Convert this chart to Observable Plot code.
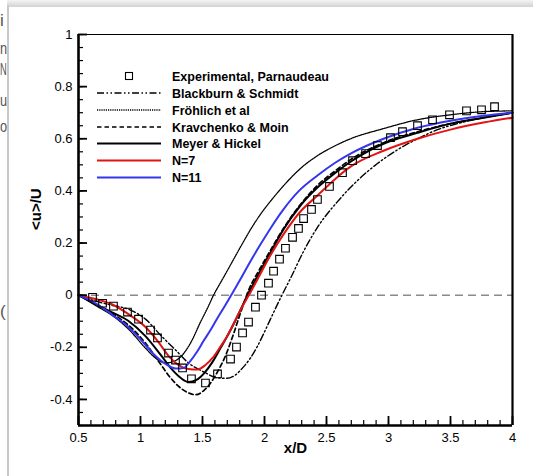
<!DOCTYPE html>
<html>
<head>
<meta charset="utf-8">
<script src="https://cdn.jsdelivr.net/npm/d3@7"></script>
<script src="https://cdn.jsdelivr.net/npm/@observablehq/plot@0.6"></script>
<style>
  body { margin: 0; background: white; }
  #wrap { position: relative; width: 533px; height: 476px; overflow: hidden; background: white; font-family: "Liberation Sans", Arial, sans-serif; }
  #wrap > svg.plot { position: absolute; left: 0; top: 0; }
  #legend { position: absolute; left: 0; top: 0; pointer-events: none; }
  .decor { position: absolute; }
  #fragbox { position: absolute; left: 0; top: 0; width: 9px; height: 476px; overflow: hidden; background: white; }
  .frag { position: absolute; left: 0; font-size: 17px; color: #555; font-family: "Liberation Sans", Arial, sans-serif; line-height: 1; transform-origin: 0 0; }
</style>
</head>
<body>
<div id="wrap"></div>
<script>
// ---------- data ----------
const expX = [0.613,0.694,0.782,0.895,0.984,1.081,1.137,1.226,1.282,1.339,1.411,1.524,1.621,1.726,1.774,1.823,1.871,1.927,1.976,2.032,2.073,2.121,2.169,2.226,2.274,2.315,2.379,2.427,2.524,2.629,2.710,2.815,2.911,3.016,3.113,3.234,3.355,3.492,3.629,3.750,3.855];
const expY = [-0.008,-0.031,-0.042,-0.065,-0.092,-0.134,-0.164,-0.222,-0.249,-0.279,-0.321,-0.337,-0.302,-0.245,-0.199,-0.145,-0.103,-0.046,0.000,0.046,0.092,0.138,0.180,0.222,0.256,0.294,0.329,0.367,0.417,0.470,0.516,0.543,0.574,0.604,0.627,0.650,0.673,0.692,0.707,0.711,0.723];

const blackburnX = [0.5,0.637,0.766,0.903,1.040,1.169,1.282,1.387,1.508,1.621,1.694,1.766,1.831,1.887,1.944,2.000,2.048,2.129,2.210,2.315,2.427,2.589,2.750,2.911,3.073,3.234,3.395,3.556,3.766,4.0];
const blackburnY = [0,-0.023,-0.038,-0.054,-0.092,-0.157,-0.210,-0.260,-0.294,-0.317,-0.319,-0.306,-0.275,-0.241,-0.195,-0.141,-0.092,-0.011,0.065,0.168,0.260,0.359,0.440,0.505,0.558,0.600,0.635,0.658,0.681,0.700];

const frohlichX = [0.5,0.661,0.766,0.903,1.040,1.121,1.202,1.258,1.323,1.403,1.484,1.540,1.589,1.661,1.742,1.823,1.903,1.984,2.073,2.169,2.290,2.427,2.573,2.694,2.960,3.234,3.500,3.766,4.0];
const frohlichY = [0,-0.046,-0.076,-0.130,-0.203,-0.241,-0.260,-0.256,-0.237,-0.184,-0.103,-0.050,0,0.061,0.130,0.199,0.264,0.321,0.375,0.428,0.486,0.535,0.574,0.600,0.639,0.673,0.692,0.704,0.707];

const kravchenkoX = [0.5,0.637,0.766,0.903,1.040,1.161,1.242,1.323,1.387,1.444,1.508,1.565,1.621,1.685,1.750,1.798,1.839,1.879,1.952,2.048,2.169,2.290,2.427,2.573,2.694,2.960,3.234,3.500,3.766,4.0];
const kravchenkoY = [0,-0.034,-0.069,-0.115,-0.184,-0.264,-0.317,-0.356,-0.375,-0.382,-0.367,-0.337,-0.294,-0.233,-0.149,-0.080,-0.023,0.027,0.092,0.172,0.268,0.348,0.421,0.478,0.520,0.585,0.627,0.658,0.681,0.700];

const meyerX = [0.5,0.637,0.766,0.903,1.040,1.169,1.250,1.323,1.387,1.452,1.516,1.581,1.645,1.718,1.790,1.863,1.944,2.032,2.153,2.290,2.427,2.573,2.694,2.960,3.234,3.500,3.766,4.0];
const meyerY = [0,-0.034,-0.065,-0.099,-0.157,-0.233,-0.283,-0.317,-0.333,-0.325,-0.298,-0.256,-0.203,-0.141,-0.073,0,0.073,0.149,0.252,0.344,0.413,0.470,0.512,0.581,0.623,0.658,0.681,0.700];

const n7X = [0.5,0.637,0.766,0.903,1.040,1.145,1.226,1.306,1.387,1.460,1.524,1.581,1.637,1.694,1.750,1.806,1.887,1.944,2.048,2.153,2.290,2.427,2.573,2.694,2.960,3.234,3.500,3.766,4.0];
const n7Y = [0,-0.015,-0.034,-0.073,-0.122,-0.180,-0.233,-0.268,-0.283,-0.285,-0.268,-0.241,-0.203,-0.161,-0.111,-0.057,0.011,0.061,0.153,0.233,0.321,0.382,0.447,0.493,0.554,0.600,0.635,0.662,0.681];

const n11X = [0.5,0.637,0.766,0.903,1.040,1.121,1.202,1.282,1.347,1.403,1.460,1.508,1.565,1.621,1.685,1.742,1.815,1.887,1.968,2.048,2.153,2.274,2.427,2.573,2.694,2.960,3.234,3.500,3.766,4.0];
const n11Y = [0,-0.031,-0.073,-0.122,-0.191,-0.233,-0.264,-0.281,-0.279,-0.252,-0.214,-0.176,-0.134,-0.088,-0.038,0.008,0.069,0.130,0.195,0.256,0.329,0.398,0.459,0.509,0.543,0.600,0.642,0.669,0.688,0.700];

const xMajorTicks = [0.5,1,1.5,2,2.5,3,3.5,4];
const yMajorTicks = [-0.4,-0.2,0,0.2,0.4,0.6,0.8,1];
const xMinorTicks = d3.range(5, 41).map(i => i / 10);
const yMinorTicks = d3.range(-10, 21).map(i => i / 20);

const legendLabels = ["Experimental, Parnaudeau","Blackburn & Schmidt","Fröhlich et al","Kravchenko & Moin","Meyer & Hickel","N=7","N=11"];

// ---------- styles ----------
const styles = {
  "Blackburn & Schmidt": {stroke: "black", strokeWidth: 1.4, dash: "7,2.5,1.5,2.5,1.5,2.5"},
  "Fröhlich et al": {stroke: "black", strokeWidth: 1.3, dash: "1.2,1"},
  "Kravchenko & Moin": {stroke: "black", strokeWidth: 1.7, dash: "4.5,3"},
  "Meyer & Hickel": {stroke: "black", strokeWidth: 2, dash: null},
  "N=7": {stroke: "#e01414", strokeWidth: 2, dash: null},
  "N=11": {stroke: "#3535ee", strokeWidth: 2, dash: null}
};

const zip = (xs, ys) => xs.map((x, i) => ({x, y: ys[i]}));
const series = [
  ["Blackburn & Schmidt", zip(blackburnX, blackburnY)],
  ["Fröhlich et al", zip(frohlichX, frohlichY)],
  ["Kravchenko & Moin", zip(kravchenkoX, kravchenkoY)],
  ["Meyer & Hickel", zip(meyerX, meyerY)],
  ["N=7", zip(n7X, n7Y)],
  ["N=11", zip(n11X, n11Y)]
];
const expData = zip(expX, expY);

const W = 533, H = 476;
const mL = 78, mR = 21, mT = 34, mB = 51;
const innerW = W - mL - mR, innerH = H - mT - mB;

const lineMarks = series.map(([name, data]) => {
  const s = styles[name];
  return Plot.line(data, {x: "x", y: "y", stroke: s.stroke, strokeWidth: s.strokeWidth,
    strokeDasharray: s.dash || undefined, curve: "monotone-x"});
});

const chart = Plot.plot({
  width: W, height: H,
  marginLeft: mL, marginRight: mR, marginTop: mT, marginBottom: mB,
  style: {fontFamily: "'Liberation Sans', Arial, sans-serif", fontSize: "13px", background: "white", color: "black"},
  x: {domain: [0.5, 4]},
  y: {domain: [-0.5, 1]},
  marks: [
    Plot.ruleY([0], {stroke: "#8a8a8a", strokeWidth: 1.5, strokeDasharray: "8,5"}),
    ...lineMarks,
    Plot.dot(expData, {x: "x", y: "y", symbol: "square", r: 4.3, stroke: "black", strokeWidth: 1.1, fill: "none"}),
    // frame
    Plot.ruleY([1], {stroke: "black", strokeWidth: 1.2}),
    Plot.ruleX([4], {stroke: "black", strokeWidth: 2.2}),
    Plot.ruleX([0.5], {stroke: "black", strokeWidth: 2.6}),
    Plot.ruleY([-0.5], {stroke: "black", strokeWidth: 2.6}),
    // inward ticks
    Plot.tickX(xMinorTicks, {x: d => d, stroke: "black", strokeWidth: 1.2, insetTop: innerH - 5}),
    Plot.tickX(xMajorTicks, {x: d => d, stroke: "black", strokeWidth: 1.8, insetTop: innerH - 9}),
    Plot.tickY(yMinorTicks, {y: d => d, stroke: "black", strokeWidth: 1.2, insetRight: innerW - 5}),
    Plot.tickY(yMajorTicks, {y: d => d, stroke: "black", strokeWidth: 1.8, insetRight: innerW - 9}),
    Plot.axisX(xMajorTicks, {tickSize: 0, tickPadding: 7, tickFormat: d => String(d), label: null, fontSize: 13}),
    Plot.axisY([...yMajorTicks], {tickSize: 0, tickPadding: 6, tickFormat: d => String(d), label: null, fontSize: 13}),
    Plot.text(["x/D"], {frameAnchor: "bottom", dy: 27, fontWeight: "bold", fontSize: 15}),
    Plot.text(["<u>/U"], {frameAnchor: "left", dx: -42, rotate: -90, fontWeight: "bold", fontSize: 15})
  ]
});
chart.classList.add("plot");
const wrap = document.getElementById("wrap");
wrap.appendChild(chart);

// ---------- legend ----------
const ns = "http://www.w3.org/2000/svg";
const leg = document.createElementNS(ns, "svg");
leg.setAttribute("id", "legend");
leg.setAttribute("width", W); leg.setAttribute("height", H);
const rowY = [76, 93, 110, 127, 143.5, 160.5, 177.5];
legendLabels.forEach((lab, i) => {
  const y = rowY[i];
  if (i === 0) {
    const r = document.createElementNS(ns, "rect");
    r.setAttribute("x", 125.5); r.setAttribute("y", y - 3.5);
    r.setAttribute("width", 7); r.setAttribute("height", 7);
    r.setAttribute("fill", "white"); r.setAttribute("stroke", "black"); r.setAttribute("stroke-width", 1.1);
    leg.appendChild(r);
  } else {
    const s = styles[lab];
    const l = document.createElementNS(ns, "line");
    l.setAttribute("x1", 97); l.setAttribute("x2", 161);
    l.setAttribute("y1", y); l.setAttribute("y2", y);
    l.setAttribute("stroke", s.stroke); l.setAttribute("stroke-width", s.strokeWidth);
    if (s.dash) l.setAttribute("stroke-dasharray", s.dash);
    leg.appendChild(l);
  }
  const t = document.createElementNS(ns, "text");
  t.setAttribute("x", 172); t.setAttribute("y", y);
  t.setAttribute("dy", "0.36em");
  t.setAttribute("font-family", "'Liberation Sans', Arial, sans-serif");
  t.setAttribute("font-weight", "bold");
  t.setAttribute("font-size", "12.5");
  t.textContent = lab;
  leg.appendChild(t);
});
wrap.appendChild(leg);

// ---------- screenshot surroundings ----------
function addDiv(css) { const d = document.createElement("div"); d.className = "decor"; Object.assign(d.style, css); wrap.appendChild(d); return d; }
const fragbox = document.createElement("div");
fragbox.id = "fragbox";
wrap.appendChild(fragbox);
[["i", 12, 1], ["n", 40, 0.75], ["N", 61, 0.55], ["u", 92, 0.75], ["o", 118, 0.75], ["(", 303, 1]].forEach(([ch, y, sx]) => {
  const s = document.createElement("span");
  s.className = "frag"; s.textContent = ch;
  s.style.top = y + "px";
  s.style.transform = "scaleX(" + sx + ")";
  fragbox.appendChild(s);
});
addDiv({left: "7px", top: "0px", width: "526px", height: "7px", background: "linear-gradient(#f4f4f4, #d2d2d2)"});
addDiv({left: "7px", top: "5px", width: "2px", height: "471px", background: "#c9c9c9"});
</script>
</body>
</html>
